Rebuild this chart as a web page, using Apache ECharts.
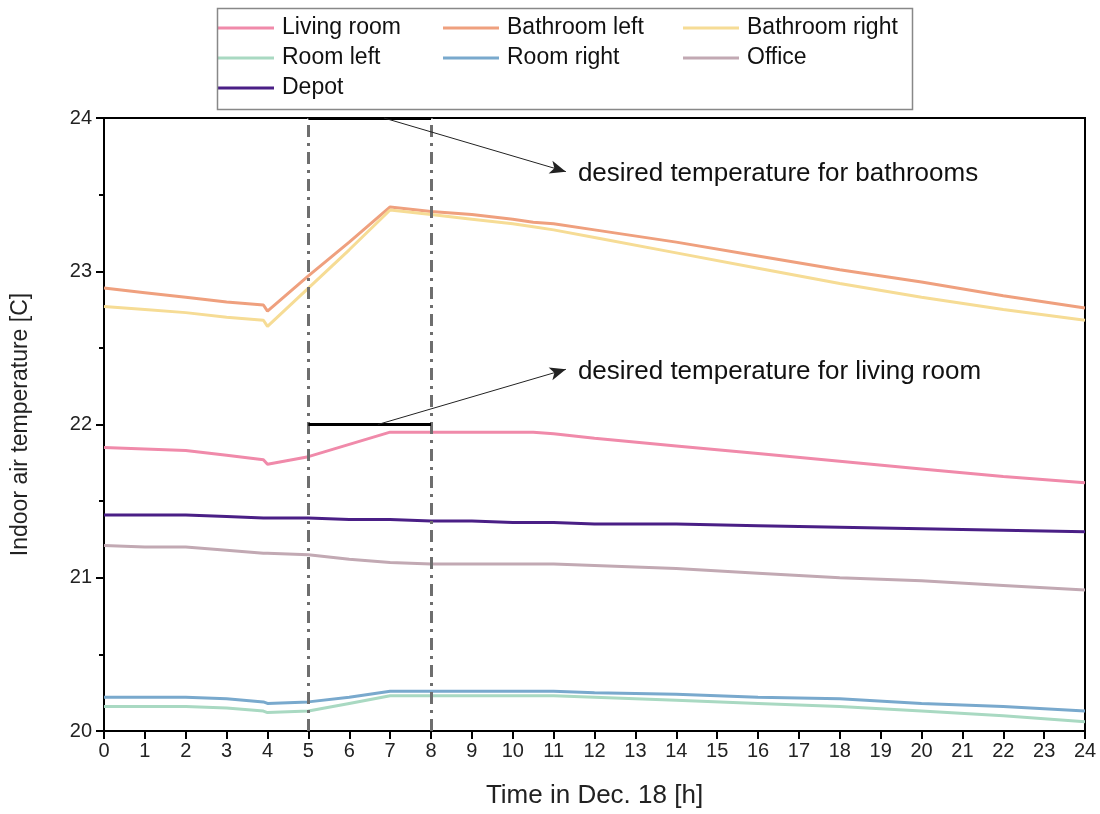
<!DOCTYPE html>
<html><head><meta charset="utf-8">
<script src="https://cdn.jsdelivr.net/npm/echarts@6/dist/echarts.min.js"></script>
<style>html,body{margin:0;padding:0;background:#fff}#c{width:1100px;height:814px}</style>
</head><body><div id="c"></div>
<script>
const hours = [0,1,2,3,3.9,4,5,6,7,8,9,10,10.5,11,12,14,16,18,20,22,24];
const livingRoom   = [21.85,21.84,21.83,21.80,21.77,21.74,21.79,21.87,21.95,21.95,21.95,21.95,21.95,21.94,21.91,21.86,21.81,21.76,21.71,21.66,21.62];
const bathroomLeft = [22.89,22.86,22.83,22.80,22.78,22.74,22.97,23.19,23.42,23.39,23.37,23.34,23.32,23.31,23.27,23.19,23.10,23.01,22.93,22.84,22.76];
const bathroomRight= [22.77,22.75,22.73,22.70,22.68,22.64,22.89,23.14,23.40,23.37,23.34,23.31,23.29,23.27,23.22,23.12,23.02,22.92,22.83,22.75,22.68];
const roomLeft     = [20.16,20.16,20.16,20.15,20.13,20.12,20.13,20.18,20.23,20.23,20.23,20.23,20.23,20.23,20.22,20.20,20.18,20.16,20.13,20.10,20.06];
const roomRight    = [20.22,20.22,20.22,20.21,20.19,20.18,20.19,20.22,20.26,20.26,20.26,20.26,20.26,20.26,20.25,20.24,20.22,20.21,20.18,20.16,20.13];
const office       = [21.21,21.20,21.20,21.18,21.16,21.16,21.15,21.12,21.10,21.09,21.09,21.09,21.09,21.09,21.08,21.06,21.03,21.00,20.98,20.95,20.92];
const depot        = [21.41,21.41,21.41,21.40,21.39,21.39,21.39,21.38,21.38,21.37,21.37,21.36,21.36,21.36,21.35,21.35,21.34,21.33,21.32,21.31,21.30];

const seriesNames = ['Living room','Bathroom left','Bathroom right','Room left','Room right','Office','Depot'];
const seriesData = [livingRoom,bathroomLeft,bathroomRight,roomLeft,roomRight,office,depot];
const colors = ['#F08AAA','#EFA07E','#F6DC95','#A9D9C2','#79A9CD','#C2A9B3','#4A1F86'];

const heatingStart = 5, heatingEnd = 8;
const desiredBath = 24, desiredLiving = 22;
const labelBath = 'desired temperature for bathrooms';
const labelLiving = 'desired temperature for living room';

const FONT = '"Liberation Sans", Arial, sans-serif';
const chart = echarts.init(document.getElementById('c'));

const series = seriesNames.map((n,i)=>({
  name:n, type:'line', showSymbol:false, symbol:'none',
  data: hours.map((h,k)=>[h, seriesData[i][k]]),
  lineStyle:{width:3,color:colors[i]}, itemStyle:{color:colors[i]},
  z: 3, animation:false
}));

series.push({
  type:'line', data:[], silent:true, animation:false,
  markLine:{
    silent:true, symbol:['none','none'], animation:false,
    label:{show:false},
    data:[
      {xAxis:heatingStart, lineStyle:{type:[12,6,3,6],color:'#6e6e6e',width:3}},
      {xAxis:heatingEnd, lineStyle:{type:[12,6,3,6],color:'#6e6e6e',width:3}},
      [{coord:[heatingStart,desiredBath],lineStyle:{type:'solid',color:'#000',width:3}},{coord:[heatingEnd,desiredBath]}],
      [{coord:[heatingStart,desiredLiving],lineStyle:{type:'solid',color:'#000',width:3}},{coord:[heatingEnd,desiredLiving]}]
    ]
  }
});
series.push({
  type:'line', data:[], silent:true, animation:false,
  markLine:{
    silent:true, symbol:['none','arrow'], symbolSize:[10,16], animation:false,
    label:{show:false},
    lineStyle:{type:'solid',color:'#222',width:1},
    data:[
      [{coord:[6.85,24]},{coord:[11.3,23.65]}],
      [{coord:[6.7,22]},{coord:[11.3,22.36]}]
    ]
  }
});

const legendBase = {
  orient:'vertical', icon:'rect', itemWidth:56, itemHeight:3, itemGap:0, padding:0,
  textStyle:{fontFamily:FONT,fontSize:23,lineHeight:30,color:'#111',padding:[0,0,0,3]}, selectedMode:false
};

chart.setOption({
  animation:false,
  color:colors,
  grid:{left:104,right:15,top:118,bottom:82,show:true,borderColor:'#000',borderWidth:2,backgroundColor:'transparent'},
  legend:[
    Object.assign({},legendBase,{left:218,top:13,data:['Living room','Room left','Depot']}),
    Object.assign({},legendBase,{left:443,top:13,data:['Bathroom left','Room right']}),
    Object.assign({},legendBase,{left:683,top:13,data:['Bathroom right','Office']})
  ],
  xAxis:{type:'value',min:0,max:24,interval:1,
    name:'Time in Dec. 18 [h]',nameLocation:'middle',nameGap:52,
    nameTextStyle:{fontFamily:FONT,fontSize:26,color:'#222'},
    axisLine:{lineStyle:{color:'#000',width:2}},
    axisTick:{inside:false,length:8,lineStyle:{color:'#000',width:2}},
    axisLabel:{fontFamily:FONT,fontSize:20,color:'#222',margin:10},
    splitLine:{show:false}},
  yAxis:{type:'value',min:20,max:24,interval:1,
    name:'Indoor air temperature [C]',nameLocation:'middle',nameGap:72,
    nameTextStyle:{fontFamily:FONT,fontSize:23,color:'#222'},
    axisLine:{show:true,lineStyle:{color:'#000',width:2}},
    axisTick:{show:true,inside:false,length:8,lineStyle:{color:'#000',width:2}},
    minorTick:{show:true,splitNumber:2,length:5,lineStyle:{color:'#000',width:2}},
    axisLabel:{fontFamily:FONT,fontSize:20,color:'#222',margin:12},
    splitLine:{show:false}},
  series:series
});

const pb = chart.convertToPixel({gridIndex:0},[11.3,23.65]);
const pl = chart.convertToPixel({gridIndex:0},[11.3,22.36]);
chart.setOption({graphic:[
  {type:'rect',left:215,top:6,shape:{width:695,height:101},style:{fill:'none',stroke:'#888',lineWidth:1.5},z:100},
  {type:'text',x:pb[0]+12,y:pb[1]+2,style:{text:labelBath,font:'26px '+FONT,fill:'#111',textVerticalAlign:'middle'},z:100},
  {type:'text',x:pl[0]+12,y:pl[1]+2,style:{text:labelLiving,font:'26px '+FONT,fill:'#111',textVerticalAlign:'middle'},z:100}
]});
</script></body></html>
